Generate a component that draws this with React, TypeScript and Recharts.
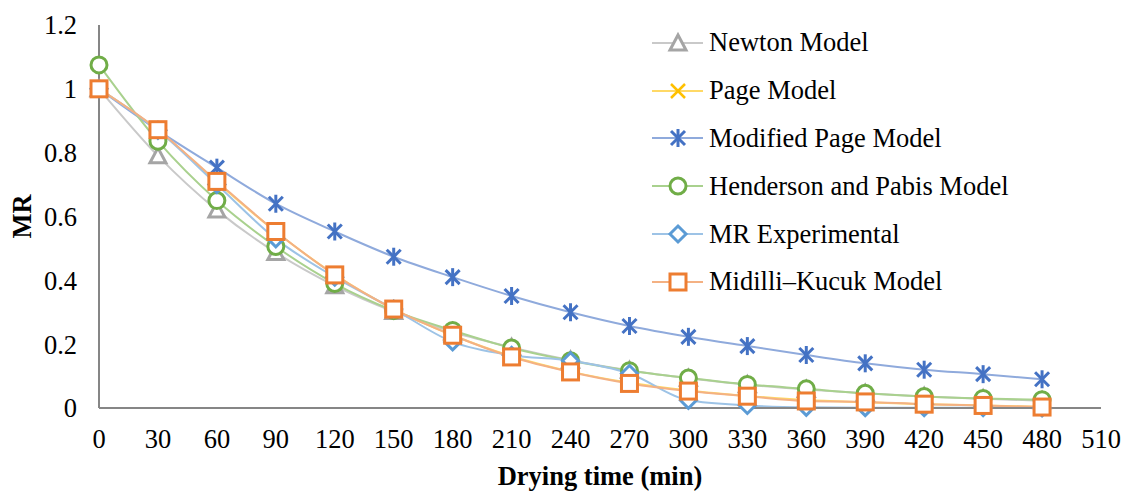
import React from "react";
import { LineChart, Line, XAxis, YAxis, Label } from "recharts";

const times = [0, 30, 60, 90, 120, 150, 180, 210, 240, 270, 300, 330, 360, 390, 420, 450, 480];
const xTicks = [0, 30, 60, 90, 120, 150, 180, 210, 240, 270, 300, 330, 360, 390, 420, 450, 480, 510];
const yTicks = [0, 0.2, 0.4, 0.6, 0.8, 1, 1.2];

const newton = [1.0, 0.79, 0.62, 0.487, 0.383, 0.302, 0.238, 0.19, 0.15, 0.118, 0.093, 0.073, 0.058, 0.046, 0.036, 0.029, 0.023];
const page = [1.0, 0.87, 0.708, 0.552, 0.418, 0.31, 0.228, 0.162, 0.114, 0.079, 0.055, 0.038, 0.025, 0.018, 0.012, 0.008, 0.004];
const modifiedPage = [1.0, 0.87, 0.753, 0.64, 0.553, 0.474, 0.41, 0.351, 0.3, 0.257, 0.223, 0.194, 0.166, 0.14, 0.12, 0.106, 0.09];
const henderson = [1.075, 0.836, 0.65, 0.506, 0.39, 0.305, 0.243, 0.188, 0.148, 0.117, 0.094, 0.074, 0.06, 0.046, 0.036, 0.03, 0.026];
const mrExperimental = [1.0, 0.87, 0.7, 0.53, 0.41, 0.31, 0.207, 0.165, 0.148, 0.108, 0.024, 0.008, 0.002, 0.001, 0.001, 0.001, 0.0];
const midilli = [1.0, 0.872, 0.71, 0.553, 0.417, 0.31, 0.228, 0.16, 0.113, 0.077, 0.053, 0.037, 0.022, 0.019, 0.012, 0.008, 0.003];

const data = times.map((t, i) => ({
  t,
  newton: newton[i],
  page: page[i],
  modifiedPage: modifiedPage[i],
  henderson: henderson[i],
  mr: mrExperimental[i],
  midilli: midilli[i],
}));

type Shape = "triangle" | "x" | "star" | "circle" | "diamond" | "square";

const series: { key: string; name: string; line: string; marker: string; shape: Shape }[] = [
  { key: "newton", name: "Newton Model", line: "#c9c9c9", marker: "#a5a5a5", shape: "triangle" },
  { key: "page", name: "Page Model", line: "#ffd966", marker: "#ffc000", shape: "x" },
  { key: "modifiedPage", name: "Modified Page Model", line: "#8faadc", marker: "#4472c4", shape: "star" },
  { key: "henderson", name: "Henderson and Pabis Model", line: "#a9d18e", marker: "#70ad47", shape: "circle" },
  { key: "mr", name: "MR Experimental", line: "#9dc3e6", marker: "#5b9bd5", shape: "diamond" },
  { key: "midilli", name: "Midilli\u2013Kucuk Model", line: "#f4b183", marker: "#ed7d31", shape: "square" },
];

const FONT = "'Liberation Serif', 'Times New Roman', serif";
const FS = 26.5;

function Marker({ cx, cy, shape, color }: { cx: number; cy: number; shape: Shape; color: string }) {
  const sw = 3;
  switch (shape) {
    case "triangle":
      return (
        <polygon
          points={`${cx},${cy - 8} ${cx - 8},${cy + 7} ${cx + 8},${cy + 7}`}
          fill="#fff"
          stroke={color}
          strokeWidth={sw}
        />
      );
    case "x":
      return (
        <g stroke={color} strokeWidth={2.5}>
          <line x1={cx - 7} y1={cy - 7} x2={cx + 7} y2={cy + 7} />
          <line x1={cx - 7} y1={cy + 7} x2={cx + 7} y2={cy - 7} />
        </g>
      );
    case "star":
      return (
        <g stroke={color} strokeWidth={3}>
          <line x1={cx - 7} y1={cy - 7} x2={cx + 7} y2={cy + 7} />
          <line x1={cx - 7} y1={cy + 7} x2={cx + 7} y2={cy - 7} />
          <line x1={cx} y1={cy - 9} x2={cx} y2={cy + 9} />
        </g>
      );
    case "circle":
      return <circle cx={cx} cy={cy} r={8} fill="#fff" stroke={color} strokeWidth={sw} />;
    case "diamond":
      return (
        <polygon
          points={`${cx},${cy - 8} ${cx + 8},${cy} ${cx},${cy + 8} ${cx - 8},${cy}`}
          fill="#fff"
          stroke={color}
          strokeWidth={sw}
        />
      );
    case "square":
    default:
      return <rect x={cx - 8} y={cy - 8} width={16} height={16} fill="#fff" stroke={color} strokeWidth={sw} />;
  }
}

function LegendBox() {
  return (
    <div style={{ fontFamily: FONT, fontSize: FS, color: "#000" }}>
      {series.map((s) => (
        <div key={s.key} style={{ display: "flex", alignItems: "center", height: 47.8 }}>
          <svg width={56} height={30} style={{ overflow: "visible" }}>
            <line x1={2} y1={15} x2={53} y2={15} stroke={s.line} strokeWidth={2} />
            <Marker cx={28} cy={15} shape={s.shape} color={s.marker} />
          </svg>
          <span style={{ marginLeft: 3, whiteSpace: "nowrap" }}>{s.name}</span>
        </div>
      ))}
    </div>
  );
}

export default function App() {
  return (
    <div style={{ position: "absolute", left: 0, top: 0, width: 1129, height: 491, background: "#fff" }}>
      <LineChart width={1129} height={491} data={data} margin={{ top: 25, right: 28, bottom: 6, left: 0 }}>
        <XAxis
          dataKey="t"
          type="number"
          domain={[0, 510]}
          ticks={xTicks}
          interval={0}
          tickLine={false}
          tickSize={0}
          tickMargin={21}
          height={77}
          axisLine={{ stroke: "#868686", strokeWidth: 2 }}
          tick={{ fill: "#000", fontSize: FS, fontFamily: FONT }}
        >
          <Label
            value="Drying time (min)"
            position="insideBottom"
            offset={0}
            style={{ fontFamily: FONT, fontSize: FS, fontWeight: "bold", fill: "#000" }}
          />
        </XAxis>
        <YAxis
          type="number"
          domain={[0, 1.2]}
          ticks={yTicks}
          interval={0}
          tickLine={false}
          tickSize={0}
          tickMargin={22}
          width={99}
          axisLine={{ stroke: "#868686", strokeWidth: 2 }}
          tick={{ fill: "#000", fontSize: FS, fontFamily: FONT }}
        >
          <Label
            value="MR"
            angle={-90}
            position="insideLeft"
            offset={22}
            style={{ fontFamily: FONT, fontSize: FS, fontWeight: "bold", fill: "#000", textAnchor: "middle" }}
          />
        </YAxis>
        {series.map((s) => (
          <Line
            key={s.key}
            dataKey={s.key}
            name={s.name}
            type="monotone"
            stroke={s.line}
            strokeWidth={2}
            isAnimationActive={false}
            activeDot={false}
            dot={(p: any) => (
              <Marker key={`${s.key}-${p.index}`} cx={p.cx} cy={p.cy} shape={s.shape} color={s.marker} />
            )}
          />
        ))}
      </LineChart>
      <div style={{ position: "absolute", left: 650, top: 19 }}>
        <LegendBox />
      </div>
    </div>
  );
}
